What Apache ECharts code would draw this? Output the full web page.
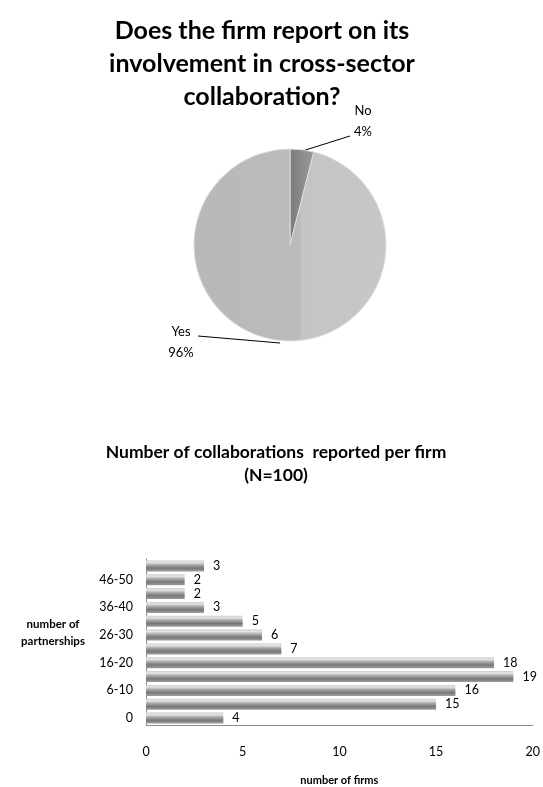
<!DOCTYPE html>
<html>
<head>
<meta charset="utf-8">
<script src="https://cdn.jsdelivr.net/npm/echarts@6/dist/echarts.min.js"></script>
<style>
  html, body { margin: 0; padding: 0; background: #fff; }
  #chart { width: 543px; height: 787px; }
</style>
</head>
<body>
<div id="chart"></div>
<script>
// Pie: does the firm report on cross-sector collaboration
const pieNames = ['No', 'Yes'];
const pieValues = [4, 96];

// Bars: number of collaborations reported per firm (bottom to top)
const categories = ['0', '1-5', '6-10', '11-15', '16-20', '21-25', '26-30', '31-35', '36-40', '41-45', '46-50', '>50'];
const firmCounts = [4, 15, 16, 19, 18, 7, 6, 5, 3, 2, 2, 3];
const xTicks = [0, 5, 10, 15, 20];

const FONT = 'Lato, "Liberation Sans", sans-serif';

// Where each pie label sits and how its leader line runs
const pieLabelPlaces = {
  No:  { x: 363, y: 121, line: [[296, 153], [350, 136], [350, 136]] },
  Yes: { x: 181, y: 342, line: [[280, 343], [198, 336], [198, 336]] }
};

const chart = echarts.init(document.getElementById('chart'), null, { renderer: 'canvas' });

const barFill = new echarts.graphic.LinearGradient(0, 0, 0, 1, [
  { offset: 0, color: '#cbcbcb' },
  { offset: 0.18, color: '#e6e6e6' },
  { offset: 0.42, color: '#a8a8a8' },
  { offset: 0.7, color: '#777777' },
  { offset: 1, color: '#9e9e9e' }
]);

const sliceColors = {
  No: new echarts.graphic.LinearGradient(0, 0, 1, 0, [
    { offset: 0, color: '#7a7a7a' },
    { offset: 1, color: '#9c9c9c' }
  ]),
  Yes: new echarts.graphic.LinearGradient(0, 0, 1, 0, [
    { offset: 0, color: '#b8b8b8' },
    { offset: 0.55, color: '#bbbbbb' },
    { offset: 0.56, color: '#c4c4c4' },
    { offset: 1, color: '#c7c7c7' }
  ])
};

chart.setOption({
  animation: false,
  backgroundColor: '#ffffff',
  textStyle: { fontFamily: FONT },
  title: [
    {
      text: 'Does the firm report on its\ninvolvement in cross-sector\ncollaboration?',
      left: 257, top: 9, textAlign: 'center',
      textStyle: { fontFamily: FONT, fontSize: 25, fontWeight: 'bold', color: '#000', lineHeight: 33 }
    },
    {
      text: 'Number of collaborations  reported per firm\n(N=100)',
      left: 271, top: 436, textAlign: 'center',
      textStyle: { fontFamily: FONT, fontSize: 17.5, fontWeight: 'bold', color: '#000', lineHeight: 23 }
    },
    {
      text: 'number of\npartnerships',
      left: 48, top: 611, textAlign: 'center',
      textStyle: { fontFamily: FONT, fontSize: 11.5, fontWeight: 'bold', color: '#000', lineHeight: 17 }
    }
  ],
  grid: { left: 146, right: 6, top: 559, bottom: 59 },
  xAxis: {
    type: 'value',
    min: xTicks[0], max: xTicks[xTicks.length - 1], interval: xTicks[1] - xTicks[0],
    name: 'number of firms', nameLocation: 'middle', nameGap: 50,
    nameTextStyle: { fontFamily: FONT, fontSize: 11, fontWeight: 'bold', color: '#000' },
    axisLine: { show: true, lineStyle: { color: '#8c8c8c', width: 1 } },
    axisTick: { show: false },
    splitLine: { show: false },
    axisLabel: { margin: 20, fontSize: 12.5, color: '#000', fontFamily: FONT }
  },
  yAxis: {
    type: 'category',
    data: categories,
    axisLine: { show: true, lineStyle: { color: '#8c8c8c', width: 1 } },
    axisTick: { show: false },
    axisLabel: { interval: 1, margin: 13, fontSize: 12.5, color: '#000', fontFamily: FONT }
  },
  series: [
    {
      type: 'pie',
      center: [290, 245],
      radius: 96,
      startAngle: 90,
      clockwise: true,
      silent: true,
      data: pieNames.map((n, i) => ({
        name: n, value: pieValues[i],
        itemStyle: { color: sliceColors[n] }
      })),
      itemStyle: { borderColor: '#dcdcdc', borderWidth: 1 },
      label: {
        show: true, position: 'outside',
        formatter: '{b}\n{d}%',
        fontFamily: FONT, fontSize: 13, lineHeight: 21, color: '#000', align: 'center'
      },
      labelLine: { show: true, lineStyle: { color: '#000', width: 1 } },
      labelLayout: function (params) {
        const p = pieLabelPlaces[pieNames[params.dataIndex]];
        return {
          x: p.x, y: p.y, align: 'center', verticalAlign: 'middle',
          labelLinePoints: p.line
        };
      }
    },
    {
      type: 'bar',
      data: firmCounts,
      barWidth: 11,
      silent: true,
      itemStyle: { color: barFill },
      label: {
        show: true, position: 'right', distance: 9,
        fontFamily: FONT, fontSize: 12.5, color: '#000'
      }
    }
  ]
});
</script>
</body>
</html>
